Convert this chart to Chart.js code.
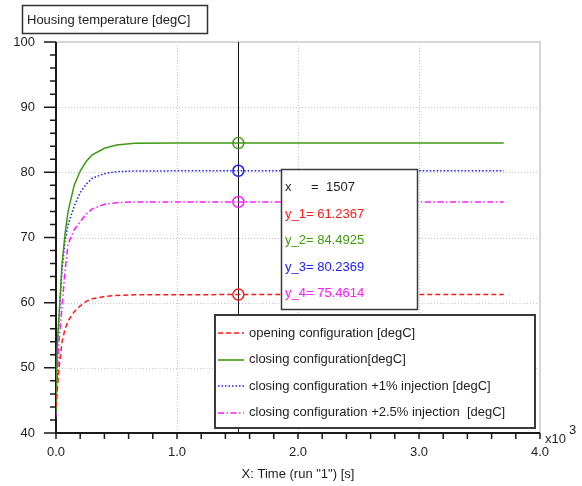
<!DOCTYPE html>
<html>
<head>
<meta charset="utf-8">
<script src="https://cdn.jsdelivr.net/npm/chart.js@4.4.1/dist/chart.umd.min.js"></script>
<style>
  body { margin: 0; background: #fff; }
  #wrap { width: 582px; height: 486px; }
</style>
</head>
<body>
<div id="wrap"><canvas id="chart-housing" width="582" height="486"></canvas></div>
<script>
// time [s]
const times = [0, 10, 25, 50, 75, 100, 150, 200, 250, 300, 400, 500, 650, 1000, 1507, 2000, 3000, 3700];
// housing temperature [degC]
const opening = [44, 46.5, 50, 54, 56, 57.2, 58.6, 59.5, 60.2, 60.6, 60.95, 61.1, 61.2, 61.23, 61.2367, 61.237, 61.237, 61.237];
const closing = [43, 53, 58, 66, 70.6, 74, 78, 80.2, 81.7, 82.7, 83.7, 84.2, 84.45, 84.49, 84.4925, 84.4925, 84.4925, 84.4925];
const closing1 = [43, 53.5, 57.5, 65, 69.5, 72, 74.8, 76.9, 78.2, 79.1, 79.8, 80.1, 80.2, 80.23, 80.2369, 80.237, 80.237, 80.237];
const closing25 = [42.5, 48, 54, 59.5, 65, 69, 71.2, 72.4, 73.6, 74.4, 75.1, 75.35, 75.45, 75.46, 75.4614, 75.4614, 75.4614, 75.4614];

const seriesNames = [
    'opening configuration [degC]',
    'closing configuration[degC]',
    'closing configuration +1% injection [degC]',
    'closing configuration +2.5% injection  [degC]'
];
const seriesColors = ['#ff1a1a', '#3f9a10', '#1a1aff', '#ff1aff'];
const seriesDash = [[5, 3], [], [1.5, 2], [6, 2.5, 1.5, 2.5]];

const cursorX = 1507;
const cursorVals = [61.2367, 84.4925, 80.2369, 75.4614];

const xTicks = [0, 1000, 2000, 3000, 4000];
const yTicks = [40, 50, 60, 70, 80, 90, 100];

const FONT = '13px "Liberation Sans", Arial, sans-serif';

function pts(vals) {
    return times.map((t, i) => ({x: t, y: vals[i]}));
}

const decor = {
    id: 'decor',
    beforeDatasetsDraw(chart) {
        const {ctx, chartArea: a, scales: {x, y}} = chart;
        ctx.save();
        // dotted grid
        ctx.strokeStyle = '#c4c4c4';
        ctx.lineWidth = 1;
        ctx.setLineDash([1, 2]);
        xTicks.slice(1, -1).forEach(v => {
            const px = Math.round(x.getPixelForValue(v)) + 0.5;
            ctx.beginPath(); ctx.moveTo(px, a.top); ctx.lineTo(px, a.bottom); ctx.stroke();
        });
        yTicks.slice(1, -1).forEach(v => {
            const py = Math.round(y.getPixelForValue(v)) + 0.5;
            ctx.beginPath(); ctx.moveTo(a.left, py); ctx.lineTo(a.right, py); ctx.stroke();
        });
        ctx.setLineDash([]);
        // top / right frame
        ctx.strokeStyle = '#d6d6d6';
        ctx.lineWidth = 2;
        ctx.beginPath();
        ctx.moveTo(a.left, a.top); ctx.lineTo(a.right, a.top); ctx.lineTo(a.right, a.bottom);
        ctx.stroke();
        // axes
        ctx.strokeStyle = '#1a1a1a';
        ctx.lineWidth = 2;
        ctx.beginPath();
        ctx.moveTo(a.left, a.top); ctx.lineTo(a.left, a.bottom); ctx.lineTo(a.right, a.bottom);
        ctx.stroke();
        // tick marks
        ctx.lineWidth = 1.5;
        ctx.beginPath();
        for (let v = 0; v <= 4000; v += 200) {
            const px = x.getPixelForValue(v);
            ctx.moveTo(px, a.bottom); ctx.lineTo(px, a.bottom + 6);
        }
        for (let v = 40; v <= 100; v += 2) {
            const py = y.getPixelForValue(v);
            ctx.moveTo(a.left, py); ctx.lineTo(a.left - (v % 10 === 0 ? 12 : 6), py);
        }
        ctx.stroke();
        // cursor
        const cx = Math.round(x.getPixelForValue(cursorX)) + 0.5;
        ctx.strokeStyle = '#111';
        ctx.lineWidth = 1;
        ctx.beginPath(); ctx.moveTo(cx, a.top); ctx.lineTo(cx, a.bottom); ctx.stroke();
        ctx.restore();
    },
    afterDraw(chart) {
        const {ctx, chartArea: a} = chart;
        ctx.save();
        ctx.font = FONT;
        ctx.textBaseline = 'middle';

        // title box
        ctx.fillStyle = '#fff';
        ctx.fillRect(22, 5, 185, 28);
        ctx.strokeStyle = '#333';
        ctx.lineWidth = 1.5;
        ctx.strokeRect(22.5, 5.5, 185, 28);
        ctx.fillStyle = '#1e1e1e';
        ctx.fillText('Housing temperature [degC]', 27, 20);

        // cursor read-out box
        ctx.fillStyle = '#fff';
        ctx.fillRect(281, 169, 136, 140);
        ctx.strokeStyle = '#3a3a3a';
        ctx.strokeRect(281.5, 169.5, 136, 140);
        ctx.fillStyle = '#1e1e1e';
        ctx.fillText('x', 285, 187);
        ctx.fillText('=', 311, 187);
        ctx.fillText(String(cursorX), 326, 187);
        cursorVals.forEach((v, i) => {
            ctx.fillStyle = seriesColors[i];
            ctx.fillText('y_' + (i + 1) + '= ' + v.toFixed(4), 285, 214 + i * 26.5);
        });

        // legend box
        ctx.fillStyle = '#fff';
        ctx.fillRect(215, 315, 320, 113);
        ctx.strokeStyle = '#3a3a3a';
        ctx.lineWidth = 2;
        ctx.strokeRect(215, 315, 320, 113);
        seriesNames.forEach((name, i) => {
            const ly = 333 + i * 26.5;
            ctx.save();
            ctx.strokeStyle = seriesColors[i];
            ctx.lineWidth = 1.6;
            ctx.setLineDash(seriesDash[i]);
            ctx.beginPath(); ctx.moveTo(218, Math.round(ly)); ctx.lineTo(244, Math.round(ly)); ctx.stroke();
            ctx.restore();
            ctx.fillStyle = '#1e1e1e';
            ctx.fillText(name, 249, ly);
        });

        // x axis title and multiplier
        ctx.fillStyle = '#1e1e1e';
        ctx.textAlign = 'center';
        ctx.fillText('X: Time (run "1") [s]', (a.left + a.right) / 2, 474);
        ctx.textAlign = 'left';
        ctx.fillText('x10', 545, 439);
        ctx.fillText('3', 569, 430);
        ctx.restore();
    }
};

const datasets = [opening, closing, closing1, closing25].map((vals, i) => ({
    label: seriesNames[i],
    data: pts(vals),
    showLine: true,
    borderColor: seriesColors[i],
    borderDash: seriesDash[i],
    borderWidth: 1.5,
    pointRadius: 0,
    tension: 0,
    fill: false
}));
cursorVals.forEach((v, i) => {
    datasets.push({
        label: 'cursor ' + (i + 1),
        data: [{x: cursorX, y: v}],
        showLine: false,
        pointRadius: 5.5,
        pointBorderWidth: 1.5,
        pointBackgroundColor: 'rgba(0,0,0,0)',
        pointBorderColor: seriesColors[i]
    });
});

const ctx = document.getElementById('chart-housing').getContext('2d');
const myChart = new Chart(ctx, {
    type: 'scatter',
    data: { datasets: datasets },
    plugins: [decor],
    options: {
        responsive: false,
        animation: false,
        layout: { padding: { top: 42, right: 42, left: 0, bottom: 0 } },
        plugins: {
            legend: { display: false },
            tooltip: { enabled: false }
        },
        scales: {
            x: {
                type: 'linear',
                min: 0,
                max: 4000,
                afterFit: s => { s.height = 53; },
                afterBuildTicks: s => { s.ticks = xTicks.map(v => ({value: v})); },
                grid: { display: false, drawTicks: false },
                border: { display: false },
                ticks: {
                    padding: 12,
                    maxRotation: 0,
                    autoSkip: false,
                    color: '#1e1e1e',
                    font: { family: '"Liberation Sans", Arial, sans-serif', size: 13 },
                    callback: v => (v / 1000).toFixed(1)
                }
            },
            y: {
                min: 40,
                max: 100,
                afterFit: s => { s.width = 56; },
                afterBuildTicks: s => { s.ticks = yTicks.map(v => ({value: v})); },
                grid: { display: false, drawTicks: false },
                border: { display: false },
                ticks: {
                    padding: 21,
                    color: '#1e1e1e',
                    font: { family: '"Liberation Sans", Arial, sans-serif', size: 13 },
                    callback: v => String(v)
                }
            }
        }
    }
});
</script>
</body>
</html>
